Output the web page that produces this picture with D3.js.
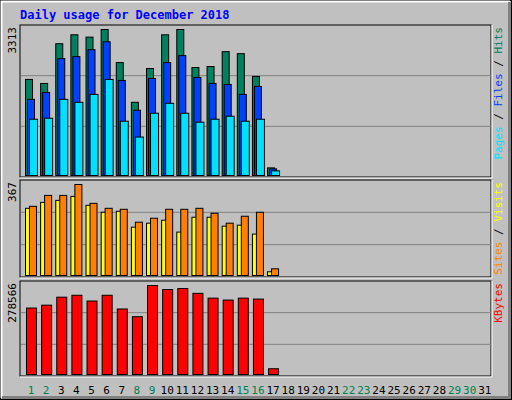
<!DOCTYPE html>
<html><head><meta charset="utf-8">
<script src="https://cdn.jsdelivr.net/npm/d3@7"></script>
<style>body{margin:0;background:#fff}svg{display:block}text{font-family:"DejaVu Sans Mono",monospace}</style>
</head><body>
<svg id="chart" width="512" height="400"></svg>
<script>
const days = d3.range(1, 32);
const weekends = [1, 2, 8, 9, 15, 16, 22, 23, 29, 30];
const hits = [2180, 2089, 2990, 3193, 3140, 3313, 2562, 1661, 2427, 3193, 3313, 2450, 2472, 2810, 2765, 2247, 173];
const files = [1728, 1886, 2652, 2697, 2855, 3035, 2157, 1481, 2202, 2562, 2720, 2224, 2089, 2067, 1841, 2021, 150];
const pages = [1277, 1300, 1728, 1661, 1841, 2180, 1232, 872, 1413, 1638, 1413, 1210, 1277, 1345, 1232, 1277, 105];
const visits = [271, 295, 303, 319, 283, 255, 259, 195, 211, 223, 175, 235, 235, 199, 203, 167, 15];
const sites = [279, 323, 323, 367, 291, 271, 267, 215, 231, 267, 267, 271, 251, 211, 239, 255, 27];
const kbytes = [208000, 217000, 242000, 248000, 230000, 248000, 205000, 181000, 278566, 266000, 269000, 254000, 239000, 233000, 239000, 236000, 18000];

const svg = d3.select('#chart');
const left = 20, right = 491;

// frame
svg.append('rect').attr('x', 0.5).attr('y', 0.5).attr('width', 511).attr('height', 399)
  .attr('fill', '#c0c0c0').attr('stroke', '#000');
svg.append('path').attr('d', 'M1.5,398V1.5H510').attr('fill', 'none').attr('stroke', '#fff').attr('stroke-width', 2);
svg.append('path').attr('d', 'M2,397.5H509.5V2').attr('fill', 'none').attr('stroke', '#808080').attr('stroke-width', 3);

svg.append('text').attr('x', 20).attr('y', 19).attr('fill', '#0000ff')
  .style('font-size', '12px').style('font-weight', 'bold').text('Daily usage for December 2018');

const x = d3.scaleBand().domain(days).range([left + 2, right]).paddingInner(0);

function panel(top, bottom, max, label, series, rlabels) {
  svg.append('rect').attr('x', left).attr('y', top).attr('width', right - left).attr('height', bottom - top)
    .attr('fill', '#c0c0c0').attr('stroke', '#000');
  svg.append('path').attr('d', `M${left},${bottom + 1}H${right + 1}V${top}`).attr('fill', 'none').attr('stroke', '#fff');
  const h = bottom - top;
  [1 / 3, 2 / 3].forEach(f => {
    svg.append('line').attr('x1', left + 1).attr('x2', right).attr('y1', top + h * f).attr('y2', top + h * f)
      .attr('stroke', '#808080');
  });
  const y = d3.scaleLinear().domain([0, max]).range([bottom - 2, top + 4]);
  series.forEach(s => {
    svg.append('g').selectAll('rect').data(s.values).enter().append('rect')
      .attr('x', (d, i) => x(days[i]) + s.off + 0.5)
      .attr('width', s.w)
      .attr('y', d => y(d) + 0.5)
      .attr('height', d => y(0) - y(d))
      .attr('fill', s.color).attr('stroke', '#000');
  });
  svg.append('text').attr('transform', `translate(16,${top + 2}) rotate(-90)`).attr('text-anchor', 'end')
    .style('font-size', '11px').attr('fill', '#000').text(label);
  const t = svg.append('text').attr('transform', `translate(502,${top + 2}) rotate(-90)`).attr('text-anchor', 'end')
    .style('font-size', '11px');
  rlabels.forEach((r, i) => {
    if (i) t.append('tspan').attr('fill', '#000').text(' / ');
    t.append('tspan').attr('fill', r[1]).text(r[0]);
  });
}

panel(25, 177, 3313, '3313', [
  { values: hits, color: '#00805c', off: 3, w: 7 },
  { values: files, color: '#0040ff', off: 5, w: 7 },
  { values: pages, color: '#00e0ff', off: 7, w: 8 }
], [['Pages', '#00e0ff'], ['Files', '#0040ff'], ['Hits', '#00805c']]);

panel(180, 277, 367, '367', [
  { values: visits, color: '#ffff00', off: 3, w: 5 },
  { values: sites, color: '#ff8000', off: 7, w: 7 }
], [['Sites', '#ff8000'], ['Visits', '#ffff00']]);

panel(281, 376, 278566, '278566', [
  { values: kbytes, color: '#ff0000', off: 4, w: 10 }
], [['KBytes', '#ff0000']]);

svg.append('g').selectAll('text').data(days).enter().append('text')
  .attr('x', d => x(d) + 9).attr('y', 394).attr('text-anchor', 'middle')
  .style('font-size', '11px')
  .attr('fill', d => weekends.includes(d) ? '#008050' : '#000')
  .text(d => d);
</script>
</body></html>
